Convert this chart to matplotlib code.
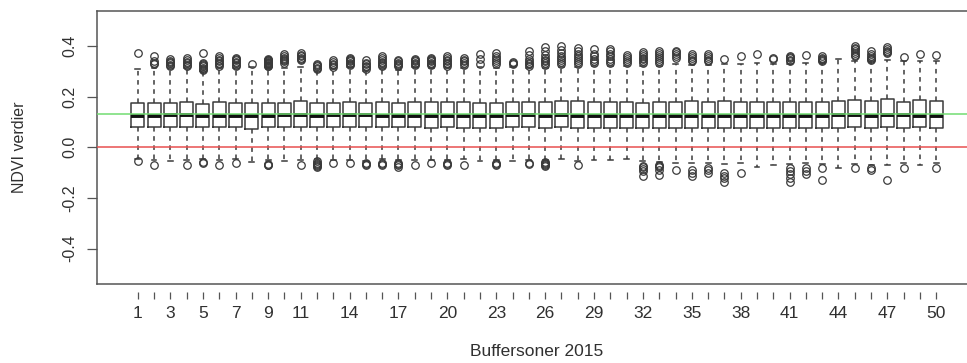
import matplotlib
matplotlib.use("Agg")
import matplotlib.pyplot as plt

plt.rcParams["font.family"] = ["Liberation Sans", "DejaVu Sans"]
plt.rcParams["axes.unicode_minus"] = False

# Buffer zones 1..50
zones = list(range(1, 51))
tick_labels_shown = [1, 3, 5, 7, 9, 11, 14, 17, 20, 23, 26, 29, 32, 35, 38, 41, 44, 47, 50]

medians = [0.125, 0.125, 0.127, 0.128, 0.125, 0.125, 0.125, 0.123, 0.125, 0.127,
           0.126, 0.125, 0.127, 0.126, 0.127, 0.125, 0.125, 0.124, 0.125, 0.124,
           0.124, 0.124, 0.124, 0.126, 0.126, 0.125, 0.126, 0.124, 0.122, 0.122,
           0.124, 0.124, 0.125, 0.124, 0.125, 0.125, 0.125, 0.122, 0.122, 0.124,
           0.123, 0.124, 0.125, 0.126, 0.126, 0.125, 0.126, 0.126, 0.125, 0.122]

q1 = [0.080, 0.079, 0.080, 0.081, 0.079, 0.079, 0.079, 0.071, 0.079, 0.080,
      0.080, 0.079, 0.080, 0.080, 0.081, 0.079, 0.079, 0.079, 0.078, 0.079,
      0.078, 0.076, 0.078, 0.079, 0.079, 0.078, 0.079, 0.076, 0.076, 0.076,
      0.078, 0.077, 0.078, 0.077, 0.078, 0.077, 0.077, 0.075, 0.075, 0.076,
      0.076, 0.077, 0.078, 0.078, 0.079, 0.078, 0.079, 0.078, 0.079, 0.076]

q3 = [0.175, 0.176, 0.176, 0.179, 0.172, 0.181, 0.174, 0.175, 0.176, 0.177,
      0.182, 0.175, 0.176, 0.178, 0.177, 0.178, 0.176, 0.180, 0.180, 0.179,
      0.178, 0.177, 0.176, 0.180, 0.179, 0.180, 0.183, 0.182, 0.180, 0.178,
      0.180, 0.177, 0.178, 0.178, 0.182, 0.180, 0.183, 0.180, 0.180, 0.179,
      0.181, 0.181, 0.180, 0.183, 0.186, 0.184, 0.190, 0.180, 0.186, 0.182]

whisker_hi = [0.311, 0.312, 0.312, 0.314, 0.300, 0.315, 0.312, 0.318, 0.312, 0.315,
              0.318, 0.300, 0.310, 0.318, 0.300, 0.312, 0.305, 0.318, 0.315, 0.312,
              0.315, 0.318, 0.315, 0.318, 0.312, 0.315, 0.318, 0.318, 0.320, 0.320,
              0.322, 0.320, 0.322, 0.330, 0.325, 0.325, 0.330, 0.330, 0.335, 0.330,
              0.330, 0.332, 0.335, 0.350, 0.340, 0.340, 0.345, 0.340, 0.342, 0.342]

whisker_lo = [-0.045, -0.050, -0.052, -0.050, -0.045, -0.050, -0.048, -0.058, -0.050, -0.055,
              -0.050, -0.045, -0.050, -0.050, -0.052, -0.048, -0.050, -0.050, -0.050, -0.050,
              -0.048, -0.055, -0.050, -0.055, -0.050, -0.050, -0.048, -0.052, -0.050, -0.050,
              -0.047, -0.055, -0.058, -0.060, -0.062, -0.062, -0.065, -0.062, -0.078, -0.070,
              -0.065, -0.062, -0.065, -0.080, -0.065, -0.068, -0.070, -0.062, -0.070, -0.062]

outliers_hi = [
    [0.372],
    [0.328, 0.334, 0.340, 0.362],
    [0.320, 0.326, 0.332, 0.338, 0.343, 0.348],
    [0.320, 0.326, 0.332, 0.338, 0.345, 0.352],
    [0.305, 0.310, 0.315, 0.320, 0.325, 0.330, 0.335, 0.372],
    [0.322, 0.328, 0.334, 0.340, 0.347, 0.354, 0.360],
    [0.320, 0.326, 0.332, 0.338, 0.344, 0.350, 0.355],
    [0.330],
    [0.320, 0.323, 0.326, 0.329, 0.332, 0.335, 0.338, 0.341, 0.344, 0.347, 0.350],
    [0.335, 0.340, 0.345, 0.350, 0.355, 0.362, 0.370],
    [0.345, 0.350, 0.355, 0.360, 0.366, 0.372],
    [0.310, 0.315, 0.320, 0.325, 0.328],
    [0.318, 0.324, 0.330, 0.337, 0.345],
    [0.325, 0.330, 0.335, 0.340, 0.345, 0.350, 0.355],
    [0.310, 0.316, 0.322, 0.328, 0.335, 0.345],
    [0.320, 0.326, 0.332, 0.338, 0.345, 0.352, 0.360],
    [0.320, 0.325, 0.330, 0.335, 0.340, 0.345],
    [0.325, 0.330, 0.335, 0.340, 0.345, 0.350],
    [0.325, 0.330, 0.335, 0.340, 0.345, 0.350, 0.355],
    [0.322, 0.328, 0.334, 0.340, 0.347, 0.354, 0.362],
    [0.325, 0.332, 0.340, 0.347, 0.355],
    [0.330, 0.348, 0.368],
    [0.330, 0.338, 0.345, 0.352, 0.360, 0.372],
    [0.328, 0.332, 0.336],
    [0.322, 0.328, 0.335, 0.342, 0.350, 0.365, 0.380],
    [0.325, 0.332, 0.340, 0.347, 0.355, 0.365, 0.380, 0.398],
    [0.330, 0.337, 0.345, 0.352, 0.360, 0.372, 0.385, 0.400],
    [0.330, 0.337, 0.345, 0.352, 0.360, 0.370, 0.380, 0.392],
    [0.335, 0.342, 0.350, 0.360, 0.370, 0.388],
    [0.335, 0.342, 0.350, 0.360, 0.370, 0.380, 0.390],
    [0.335, 0.342, 0.350, 0.357, 0.365],
    [0.335, 0.341, 0.348, 0.355, 0.362, 0.370, 0.378],
    [0.335, 0.342, 0.350, 0.357, 0.365, 0.372, 0.380],
    [0.355, 0.360, 0.368, 0.375, 0.382],
    [0.340, 0.346, 0.352, 0.360, 0.368],
    [0.340, 0.347, 0.355, 0.362, 0.370],
    [0.350],
    [0.360],
    [0.370],
    [0.350, 0.355],
    [0.340, 0.346, 0.352, 0.358, 0.362],
    [0.365],
    [0.340, 0.345, 0.350, 0.355, 0.360],
    [],
    [0.360, 0.366, 0.372, 0.380, 0.388, 0.394, 0.400],
    [0.345, 0.350, 0.355, 0.362, 0.368, 0.380],
    [0.372, 0.377, 0.382, 0.388, 0.395],
    [0.358],
    [0.368],
    [0.365],
]

outliers_lo = [
    [-0.055],
    [-0.070],
    [],
    [-0.070],
    [-0.058, -0.062],
    [-0.070],
    [-0.060],
    [],
    [-0.065, -0.068, -0.070],
    [],
    [-0.068],
    [-0.055, -0.060, -0.065, -0.070, -0.075, -0.078],
    [-0.060],
    [-0.060],
    [-0.062, -0.065, -0.068],
    [-0.060, -0.064, -0.068],
    [-0.062, -0.066, -0.070, -0.076],
    [-0.068],
    [-0.062],
    [-0.060, -0.064, -0.068],
    [-0.068],
    [],
    [-0.062, -0.066, -0.068],
    [],
    [-0.060, -0.066],
    [-0.058, -0.062, -0.065, -0.068, -0.072],
    [],
    [-0.070],
    [],
    [],
    [],
    [-0.072, -0.078, -0.085, -0.095, -0.112],
    [-0.068, -0.073, -0.078, -0.088, -0.108],
    [-0.090],
    [-0.090, -0.102, -0.115],
    [-0.080, -0.090, -0.102],
    [-0.100, -0.112, -0.122, -0.135],
    [-0.100],
    [],
    [],
    [-0.080, -0.092, -0.105, -0.120, -0.138],
    [-0.080, -0.092, -0.105],
    [-0.080, -0.128],
    [],
    [-0.082],
    [-0.080, -0.090],
    [-0.128],
    [-0.080],
    [],
    [-0.080],
]

hline_green = 0.13
hline_red = 0.0

stats = []
for i in range(len(zones)):
    stats.append({
        "label": str(zones[i]),
        "med": medians[i],
        "q1": q1[i],
        "q3": q3[i],
        "whislo": whisker_lo[i],
        "whishi": whisker_hi[i],
        "fliers": outliers_hi[i] + outliers_lo[i],
    })

line_col = "#3a3a3a"
text_col = "#303030"

fig = plt.figure(figsize=(9.67, 3.63), dpi=100)
ax = fig.add_axes([97 / 967, 1 - 284 / 363, 880 / 967, (284 - 10.7) / 363])

ax.bxp(
    stats,
    positions=zones,
    widths=0.8,
    capwidths=0.3,
    showfliers=True,
    boxprops=dict(color=line_col, linewidth=1.1),
    whiskerprops=dict(color=line_col, linewidth=1.1, linestyle=(0, (3, 3))),
    capprops=dict(color=line_col, linewidth=1.1),
    medianprops=dict(color="#111111", linewidth=2.8, solid_capstyle="butt"),
    flierprops=dict(marker="o", markerfacecolor="none", markeredgecolor=line_col,
                    markersize=5.4, markeredgewidth=0.9, linestyle="none"),
    zorder=2,
)

ax.axhline(hline_green, color="#72dc72", linewidth=1.1, zorder=3)
ax.axhline(hline_red, color="#e85050", linewidth=1.1, zorder=3)

ax.set_xlim(-1.5, 52.5)
ax.set_ylim(-0.54, 0.54)

for s in ax.spines.values():
    s.set_color("#555555")
    s.set_linewidth(1.1)

# Y axis
yt = [-0.4, -0.2, 0.0, 0.2, 0.4]
ax.set_yticks(yt)
ax.set_yticklabels([f"{v:.1f}" for v in yt], rotation=90, va="center",
                   fontsize=11.5, color=text_col)
ax.tick_params(axis="y", direction="out", length=7, width=0.9, color="#555555", pad=7)

# X axis drawn slightly below the frame, R style
ax.set_xticks([])
sec = ax.secondary_xaxis(-0.028)
sec.spines["bottom"].set_visible(False)
sec.set_xticks(zones)
sec.set_xticklabels([str(z) if z in tick_labels_shown else "" for z in zones],
                    fontsize=12.5, color=text_col)
sec.tick_params(axis="x", direction="out", length=5, width=0.9, color="#555555", pad=5)

fig.text(20 / 967, 1 - 147 / 363, "NDVI verdier", rotation=90, ha="center", va="center",
         fontsize=11.5, color=text_col)
fig.text(537 / 967, 1 - 352 / 363, "Buffersoner 2015", ha="center", va="center",
         fontsize=12.5, color=text_col)

fig.savefig("out.png", dpi=100, facecolor="white")
